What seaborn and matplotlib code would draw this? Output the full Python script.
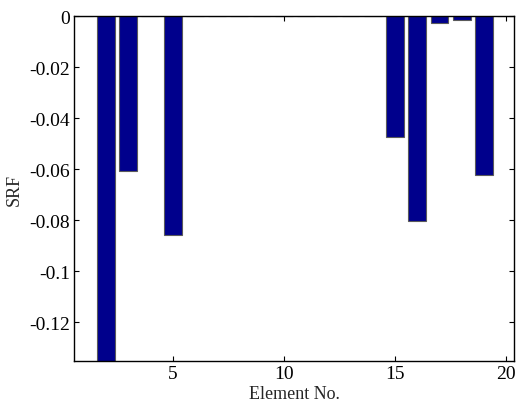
import matplotlib
matplotlib.use("Agg")
import matplotlib.pyplot as plt
import seaborn as sns
import pandas as pd
import numpy as np

elements = list(range(1, 21))
srf = [0.0, -0.145, -0.0608, 0.0, -0.0857, 0.0, 0.0, 0.0, 0.0, 0.0,
       0.0, 0.0, 0.0, 0.0, -0.0475, -0.0802, -0.0025, -0.0014, -0.0624, 0.0]
xticks = [5, 10, 15, 20]
yticks = [0, -0.02, -0.04, -0.06, -0.08, -0.1, -0.12]
ytick_labels = ["0", "-0.02", "-0.04", "-0.06", "-0.08", "-0.1", "-0.12"]

df = pd.DataFrame({"Element": elements, "SRF": srf})

sns.set_theme(style="white")
plt.rcParams["font.family"] = ["Liberation Serif", "DejaVu Serif"]

fig = plt.figure(figsize=(5.2, 4.1), dpi=100)
ax = fig.add_axes([0.1429, 0.1163, 0.846, 0.8415])

sns.barplot(data=df, x="Element", y="SRF", native_scale=True, width=0.8,
            color="#00008C", saturation=1, edgecolor="#5a5a5a", linewidth=0.8,
            errorbar=None, ax=ax)

ax.set_xlim(0.58, 20.36)
ax.set_ylim(-0.1353, 0)
ax.set_xticks(xticks)
ax.set_xticklabels([str(t) for t in xticks])
ax.set_yticks(yticks)
ax.set_yticklabels(ytick_labels)
ax.tick_params(direction="in", length=3.5, width=0.8, top=True, right=True,
               bottom=True, left=True, labelsize=14, pad=3, colors="black")
for s in ax.spines.values():
    s.set_visible(True)
    s.set_color("black")
    s.set_linewidth(1.0)
ax.set_xlabel("Element No.", fontsize=13, labelpad=1.5)
ax.set_ylabel("SRF", fontsize=13, labelpad=5)

fig.savefig("out.png", dpi=100)
